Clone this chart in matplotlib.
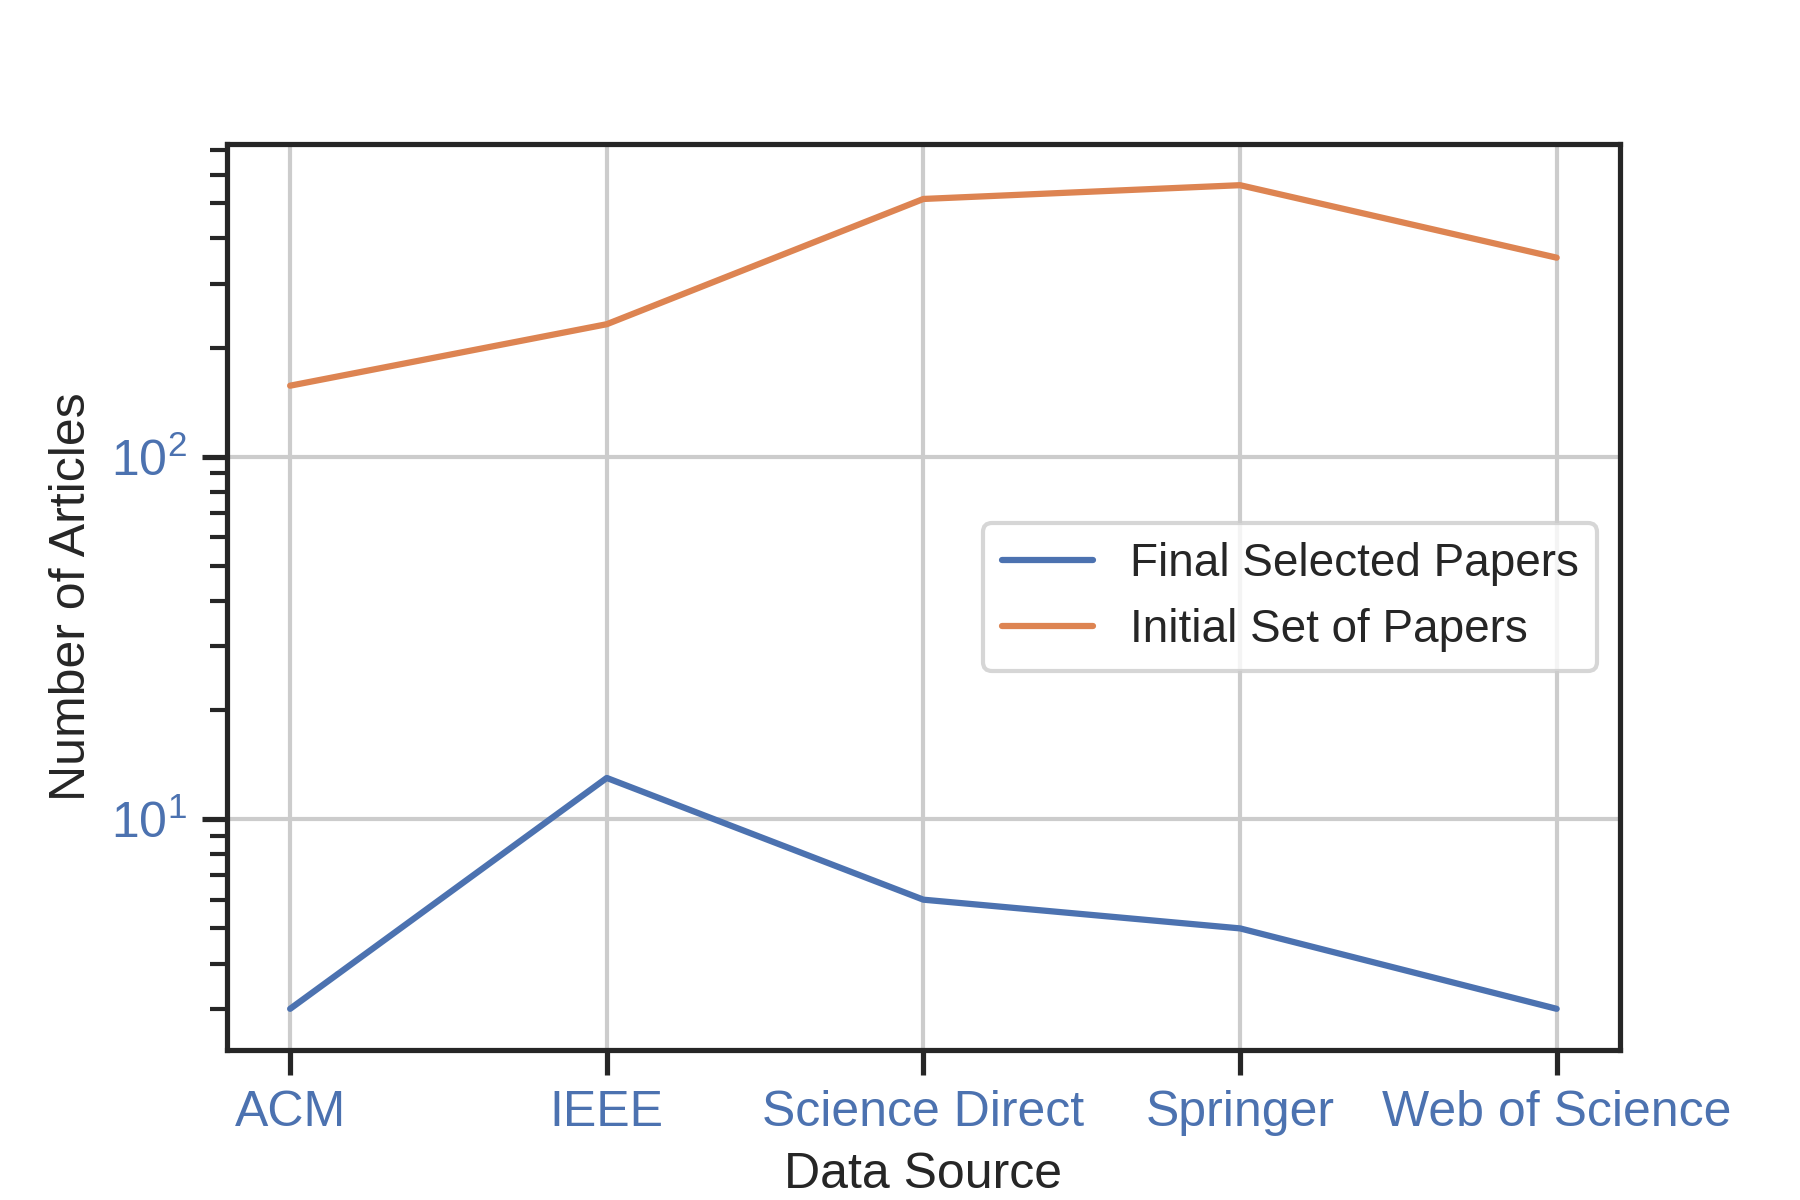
import matplotlib
matplotlib.use("Agg")
import matplotlib.pyplot as plt
import seaborn as sns

# Articles per data source
sources = ["ACM", "IEEE", "Science Direct", "Springer", "Web of Science"]
final_selected = [3, 13, 6, 5, 3]
initial_set = [157, 232, 514, 561, 354]

sns.set_theme(context="notebook", style="ticks", rc={"axes.grid": True})
plt.rcParams['font.family'] = ['Liberation Sans', 'DejaVu Sans']

fig = plt.figure(figsize=(6, 4), dpi=300)
ax = fig.add_axes([0.126, 0.125, 0.774, 0.755])

ax.plot(sources, final_selected, color="C0", linewidth=1.5, label="Final Selected Papers")
ax.plot(sources, initial_set, color="C1", linewidth=1.5, label="Initial Set of Papers")
ax.set_yscale("log")

ax.set_xlabel("Data Source", fontsize=12)
ax.set_ylabel("Number of Articles", fontsize=12)
ax.tick_params(axis="both", which="both", labelcolor="C0", labelsize=12)
ax.grid(True, which="major", color="#cccccc")

ax.legend(loc="center right", fontsize=11)

fig.savefig("out.png", dpi=300)
